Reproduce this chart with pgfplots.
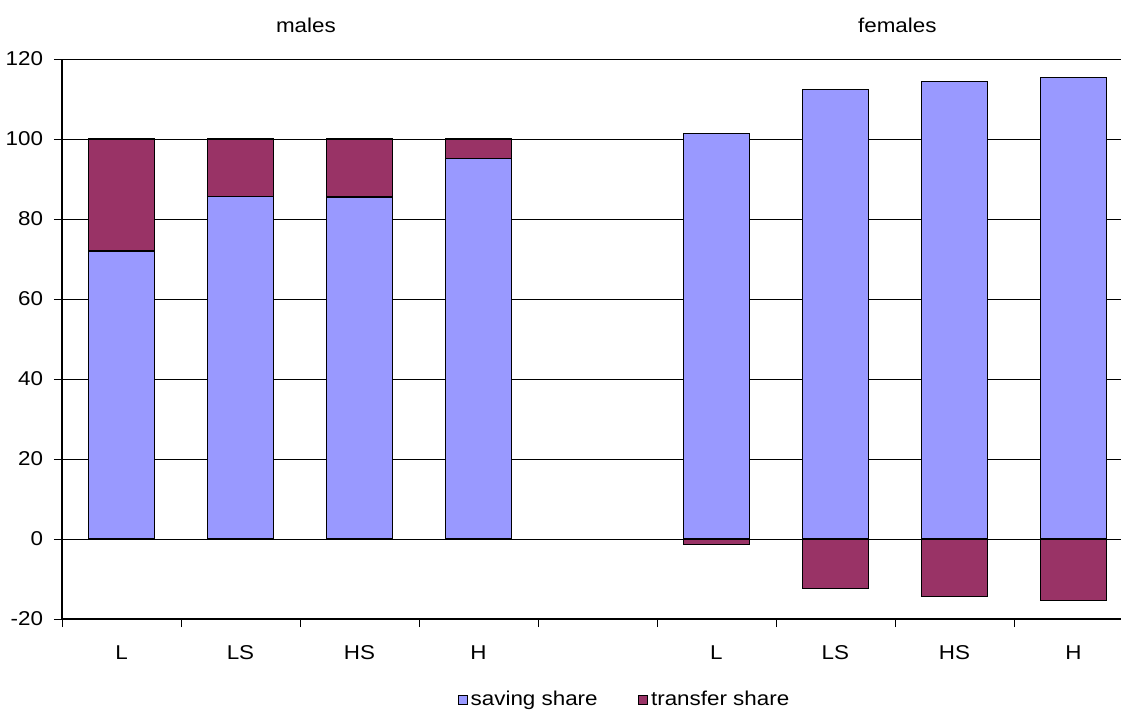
\documentclass[border=0pt]{standalone}
\usepackage{fontspec}
\setmainfont{Liberation Sans}[FakeStretch=1.12]
\usepackage{pgfplots}
\pgfplotsset{compat=1.18}
\usetikzlibrary{calc}
\definecolor{sav}{HTML}{9999FF}
\definecolor{tra}{HTML}{993366}
\pgfplotsset{
  base/.style={
    width=794.25pt, height=420pt, scale only axis,
    xmin=-0.5, xmax=8.4, ymin=-20, ymax=120,
    bar width=0.555, clip=false,
  }
}
\begin{document}
\fontsize{15}{18}\selectfont
\begin{tikzpicture}
\begin{axis}[base, name=ax,
  axis x line*=bottom, axis y line*=left,
  axis line style={black, line width=0.8pt},
  ybar stacked,
  ytick={-20,0,20,40,60,80,100,120},
  yticklabels={-20,0,20,40,60,80,100,120},
  ymajorgrids, grid style={black, line width=0.6pt},
  xtick={-0.5,0.5,1.5,2.5,3.5,4.5,5.5,6.5,7.5},
  xticklabels={L,LS,HS,H,,L,LS,HS,H},
  xticklabel style={anchor=base, yshift=-24pt, xshift=44.625pt},
  yticklabel style={xshift=-3pt},
  tick align=outside, major tick length=6pt,
  tick style={black, line width=0.6pt},
  legend style={at={(0.5316,-0.1446)}, anchor=center, draw=none, fill=none,
    legend columns=2, /tikz/every even column/.append style={column sep=28.5pt}},
  legend image code/.code={\draw[#1] (0pt,-3.4pt) rectangle (6.75pt,3.4pt);},
]
\addplot[fill=sav, draw=black, line width=0.8pt] coordinates {(0,72.0) (1,85.7) (2,85.5) (3,95.1)};
\addlegendentry{saving share}
\addplot[fill=tra, draw=black, line width=0.8pt] coordinates {(0,28.0) (1,14.3) (2,14.5) (3,4.9)};
\addlegendentry{transfer share}
\node[anchor=base] at (axis cs:1.55,126.5) {males};
\node[anchor=base] at (axis cs:6.52,126.5) {females};
\end{axis}
\begin{axis}[base, hide axis, ybar]
\addplot[bar shift=0pt, fill=sav, draw=black, line width=0.8pt] coordinates {(5,101.3) (6,112.4) (7,114.3) (8,115.4)};
\addplot[bar shift=0pt, fill=tra, draw=black, line width=0.8pt] coordinates {(5,-1.3) (6,-12.4) (7,-14.3) (8,-15.4)};
\end{axis}
\pgfresetboundingbox
\path ($(ax.south west)+(-46.5pt,-69pt)$) rectangle ($(ax.south west)+(794.25pt,464.25pt)$);
\end{tikzpicture}
\end{document}
